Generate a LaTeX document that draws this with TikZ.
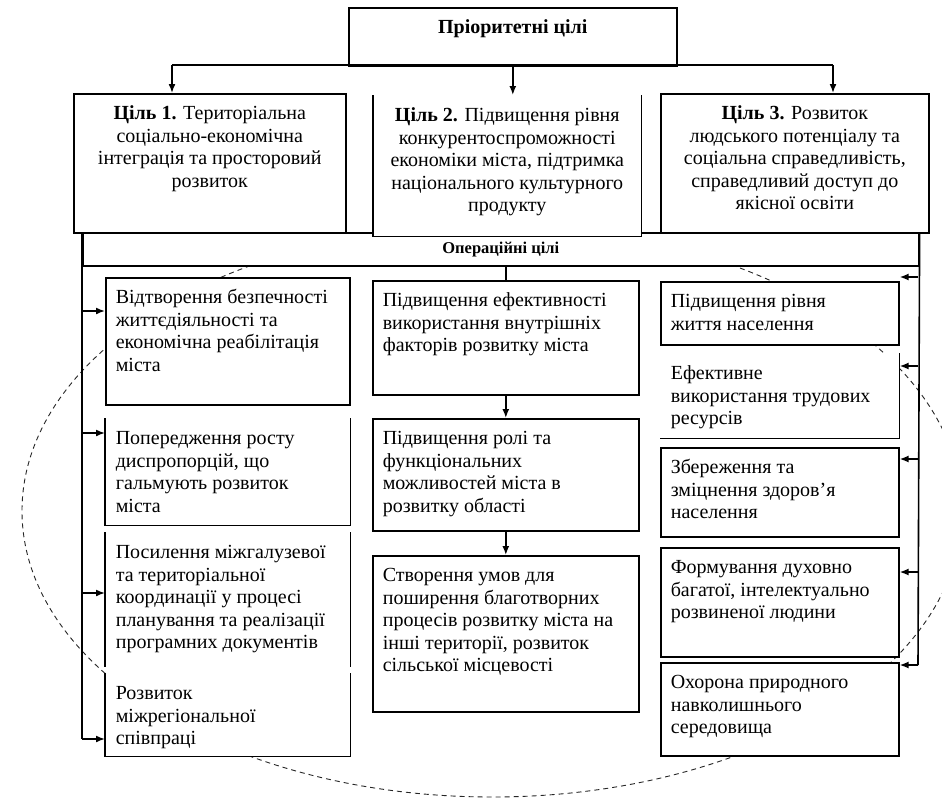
\documentclass[tikz,border=0pt]{standalone}
\usepackage{fontspec}
\setmainfont{Liberation Serif}
\usetikzlibrary{arrows.meta}

\tikzset{
  box/.style={draw, fill=white, line width=1.6pt, inner xsep=10pt, inner ysep=0pt,
    anchor=north west, font=\fontsize{20}{22.5}\selectfont},
  openbox/.style={box, draw=none},
  bus/.style={line width=1.6pt},
  arr/.style={line width=1.6pt, -{Latex[length=9pt,width=7pt]}},
  oval/.style={line width=0.9pt, black!85, dash pattern=on 5pt off 4pt}
}
% text block of a box: width and height of the box in pt, text from the top
\newcommand{\lcell}[3]{\parbox[c][#2pt][t]{\dimexpr#1pt-20pt\relax}{\raggedright\rule{0pt}{26pt}#3}}
\newcommand{\ccell}[3]{\parbox[c][#2pt][t]{\dimexpr#1pt-20pt\relax}{\centering\rule{0pt}{26pt}#3}}

\begin{document}
\begin{tikzpicture}[x=1pt, y=-1pt]
  \useasboundingbox (0,0) rectangle (942,806);
  \clip (0,0) rectangle (942,806);
  \fill[white] (0,0) rectangle (942,806);

  % dashed oval behind the operational goals
  \draw[oval] (492,511) ellipse [x radius=470, y radius=286];

  % priority goals
  \node[box, font=\bfseries\fontsize{20}{22.5}\selectfont] (prio) at (348,7) {\ccell{328}{58}{Пріоритетні цілі}};
  \coordinate (t1) at (172,65);
  \coordinate (t3) at (833,65);
  \draw[bus] (t1) -- (t3);

  \node[box, minimum width=836pt, minimum height=33pt, inner sep=0pt,
    font=\bfseries\fontsize{16.5}{18}\selectfont] (oper) at (82,232) {Операційні цілі};

  \node[box] (g1) at (73,93) {\ccell{272}{139}{\textbf{Ціль 1.} Територіальна\\ соціально-економічна\\ інтеграція та просторовий\\ розвиток}};
  \node[openbox] (g2) at (373,95) {\ccell{267}{140}{\textbf{Ціль 2.} Підвищення рівня\\ конкурентоспроможності\\ економіки міста, підтримка\\ національного культурного\\ продукту}};
  \node[box] (g3) at (660,93) {\ccell{268}{139}{\textbf{Ціль 3.} Розвиток\\ людського потенціалу та\\ соціальна справедливість,\\ справедливий доступ до\\ якісної освіти}};
  \draw[bus] (g2.north west) -- (g2.south west) -- (g2.south east) -- (g2.north east);

  \draw[arr] (t1) -- (t1 |- g1.north);
  \draw[arr] (prio.south) -- (prio.south |- g2.north);
  \draw[arr] (t3) -- (t3 |- g3.north);

  % left column
  \node[box] (l1) at (105,277) {\lcell{244}{127}{Відтворення безпечності\\ життєдіяльності та\\ економічна реабілітація\\ міста}};
  \node[openbox] (l2) at (105,418) {\lcell{244}{106}{Попередження росту\\ диспропорцій, що\\ гальмують розвиток\\ міста}};
  \node[openbox] (l3) at (105,532) {\lcell{244}{133}{Посилення міжгалузевої\\ та територіальної\\ координації у процесі\\ планування та реалізації\\ програмних документів}};
  \node[openbox] (l4) at (105,673) {\lcell{244}{82}{Розвиток\\ міжрегіональної\\ співпраці}};
  \draw[bus] (l2.north west) -- (l2.south west) -- (l2.south east) -- (l2.north east);
  \draw[bus] (l3.north west) -- (l3.south west) (l3.north east) -- (l3.south east);
  \draw[bus] (l4.north west) -- (l4.south west) -- (l4.south east) -- (l4.north east);

  \coordinate (la1) at (82,311);
  \coordinate (la2) at (82,433);
  \coordinate (la3) at (82,593);
  \coordinate (la4) at (82,739);
  \draw[bus] (oper.north west) -- (la4);
  \draw[arr] (la1) -- (la1 -| l1.west);
  \draw[arr] (la2) -- (la2 -| l2.west);
  \draw[arr] (la3) -- (la3 -| l3.west);
  \draw[arr] (la4) -- (la4 -| l4.west);

  % middle column
  \node[box] (m1) at (372,280) {\lcell{266}{114}{Підвищення ефективності\\ використання внутрішніх\\ факторів розвитку міста}};
  \node[box] (m2) at (372,418) {\lcell{266}{112}{Підвищення ролі та\\ функціональних\\ можливостей міста в\\ розвитку області}};
  \node[box] (m3) at (372,555) {\lcell{266}{156}{Створення умов для\\ поширення благотворних\\ процесів розвитку міста на\\ інші території, розвиток\\ сільської місцевості}};
  \draw[bus] (m1.north |- oper.south) -- (m1.north);
  \draw[arr] (m1.south) -- (m2.north);
  \draw[arr] (m2.south) -- (m3.north);

  % right column
  \node[box] (r1) at (660,281) {\lcell{238}{63}{Підвищення рівня\\ життя населення}};
  \node[openbox] (r2) at (660,353) {\lcell{238}{84}{Ефективне\\ використання трудових\\ ресурсів}};
  \node[box] (r3) at (660,447) {\lcell{238}{89}{Збереження та\\ зміцнення здоров’я\\ населення}};
  \node[box] (r4) at (660,547) {\lcell{238}{109}{Формування духовно\\ багатої, інтелектуально\\ розвиненої людини}};
  \node[box] (r5) at (660,662) {\lcell{238}{93}{Охорона природного\\ навколишнього\\ середовища}};
  \draw[bus] (r2.south west) -- (r2.south east) -- (r2.north east);

  \coordinate (ra1) at (918,277);
  \coordinate (ra2) at (918,366);
  \coordinate (ra3) at (918,459);
  \coordinate (ra4) at (918,572);
  \coordinate (ra5) at (918,665);
  \draw[bus] (oper.north east) -- (ra5);
  \draw[arr] (ra1) -- (ra1 -| r1.east);
  \draw[arr] (ra2) -- (ra2 -| r2.east);
  \draw[arr] (ra3) -- (ra3 -| r3.east);
  \draw[arr] (ra4) -- (ra4 -| r4.east);
  \draw[arr] (ra5) -- (ra5 -| r5.east);
\end{tikzpicture}
\end{document}
